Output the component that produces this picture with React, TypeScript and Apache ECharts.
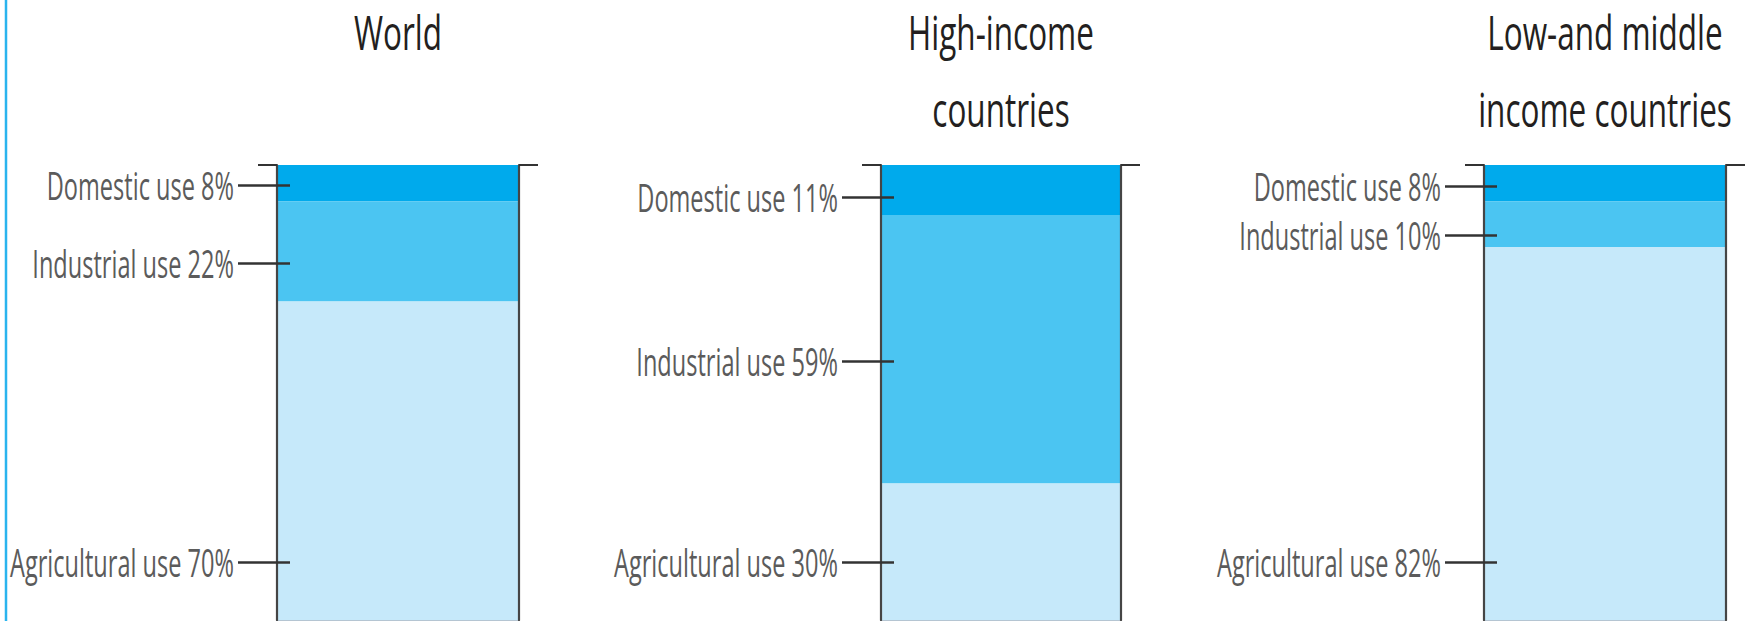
import React, { useEffect, useRef } from "react";
import * as echarts from "echarts";

// ---- data ----
const categories = ["World", "High-income countries", "Low-and middle income countries"];
const titleLines = [["World"], ["High-income", "countries"], ["Low-and middle", "income countries"]];
const useNames = ["Domestic use", "Industrial use", "Agricultural use"];
const domestic = [8, 11, 8];
const industrial = [22, 59, 10];
const agricultural = [70, 30, 82];
// where each label's leader line points, in the axis' % units (0 = top of the container)
const labelAnchors = [
  [4.5, 21.6, 87.3],
  [7.0, 43.1, 87.3],
  [4.6, 15.4, 87.3],
];

// ---- layout / style ----
const W = 1746;
const H = 621;
const gridLefts = [277, 881, 1484];
const gridWidths = [242, 240, 242];
const gridTop = 165;
const gridBottom = 1;
const colors = ["#00aaec", "#4bc5f2", "#c6e9fa"];
const outerTick = 39;
const innerTick = 13;
const capLen = 19;
const FONT = "'Open Sans', 'Noto Sans', sans-serif";

export default function App() {
  const ref = useRef<HTMLDivElement>(null);

  useEffect(() => {
    if (!ref.current) return;
    const chart = echarts.init(ref.current, undefined, { renderer: "svg" });
    const values = [domestic, industrial, agricultural];

    const grids: any[] = [];
    const xAxes: any[] = [];
    const yAxes: any[] = [];
    const series: any[] = [];

    categories.forEach((cat, i) => {
      grids.push({
        left: gridLefts[i],
        width: gridWidths[i],
        top: gridTop,
        bottom: gridBottom,
        containLabel: false,
      });
      xAxes.push({
        type: "category",
        gridIndex: i,
        data: [cat],
        position: "bottom",
        axisLine: { show: true, onZero: false, lineStyle: { color: "#9db3c3", width: 1.5 } },
        axisTick: { show: false },
        axisLabel: { show: false },
        splitLine: { show: false },
      });
      const base = {
        type: "value",
        gridIndex: i,
        min: 0,
        max: 100,
        inverse: true,
        z: 5,
        axisLabel: { show: false },
        splitLine: { show: false },
      };
      // container left wall with top cap
      yAxes.push({
        ...base,
        position: "left",
        axisLine: { show: true, lineStyle: { color: "#454545", width: 2.2 } },
        axisTick: { show: true, customValues: [0], length: capLen, lineStyle: { color: "#333", width: 2 } },
      });
      // outer leader lines
      yAxes.push({
        ...base,
        position: "left",
        axisLine: { show: false },
        axisTick: { show: true, customValues: labelAnchors[i], length: outerTick, lineStyle: { color: "#333", width: 2.5 } },
      });
      // inner part of leader lines
      yAxes.push({
        ...base,
        position: "left",
        axisLine: { show: false },
        axisTick: { show: true, inside: true, customValues: labelAnchors[i], length: innerTick, lineStyle: { color: "#333", width: 2.5 } },
      });
      // container right wall with top cap
      yAxes.push({
        ...base,
        position: "right",
        axisLine: { show: true, lineStyle: { color: "#454545", width: 2.2 } },
        axisTick: { show: true, customValues: [0], length: capLen, lineStyle: { color: "#333", width: 2 } },
      });

      useNames.forEach((name, k) => {
        series.push({
          type: "bar",
          name,
          xAxisIndex: i,
          yAxisIndex: i * 4,
          stack: "s" + i,
          barWidth: "100%",
          data: [values[k][i]],
          itemStyle: { color: colors[k] },
          emphasis: { disabled: true },
        });
      });
    });

    chart.setOption({
      animation: false,
      backgroundColor: "#ffffff",
      grid: grids,
      xAxis: xAxes,
      yAxis: yAxes,
      series,
    });

    const graphic: any[] = [
      {
        type: "line",
        shape: { x1: 6, y1: 0, x2: 6, y2: H },
        style: { stroke: "#2ab4ee", lineWidth: 2.5 },
        silent: true,
      },
    ];

    categories.forEach((_, i) => {
      const cx = gridLefts[i] + gridWidths[i] / 2;
      const lineYs = [32, 109];
      titleLines[i].forEach((line, j) => {
        graphic.push({
          type: "text",
          x: cx,
          y: lineYs[j],
          scaleX: 0.67,
          silent: true,
          style: {
            text: line,
            x: 0,
            y: 0,
            align: "center",
            verticalAlign: "middle",
            fontFamily: FONT,
            fontSize: 47,
            fill: "#231f20",
          },
        });
      });
      useNames.forEach((name, k) => {
        const y = chart.convertToPixel({ yAxisIndex: i * 4 } as any, labelAnchors[i][k]) as number;
        const v = [domestic, industrial, agricultural][k][i];
        graphic.push({
          type: "text",
          x: gridLefts[i] - outerTick - 4,
          y,
          scaleX: 0.62,
          silent: true,
          style: {
            text: `${name} ${v}%`,
            x: 0,
            y: 0,
            align: "right",
            verticalAlign: "middle",
            fontFamily: FONT,
            fontSize: 38,
            fill: "#5b5b5b",
          },
        });
      });
    });

    chart.setOption({ graphic });

    return () => {
      chart.dispose();
    };
  }, []);

  return (
    <div
      ref={ref}
      style={{ position: "absolute", left: 0, top: 0, width: W, height: H }}
    />
  );
}
